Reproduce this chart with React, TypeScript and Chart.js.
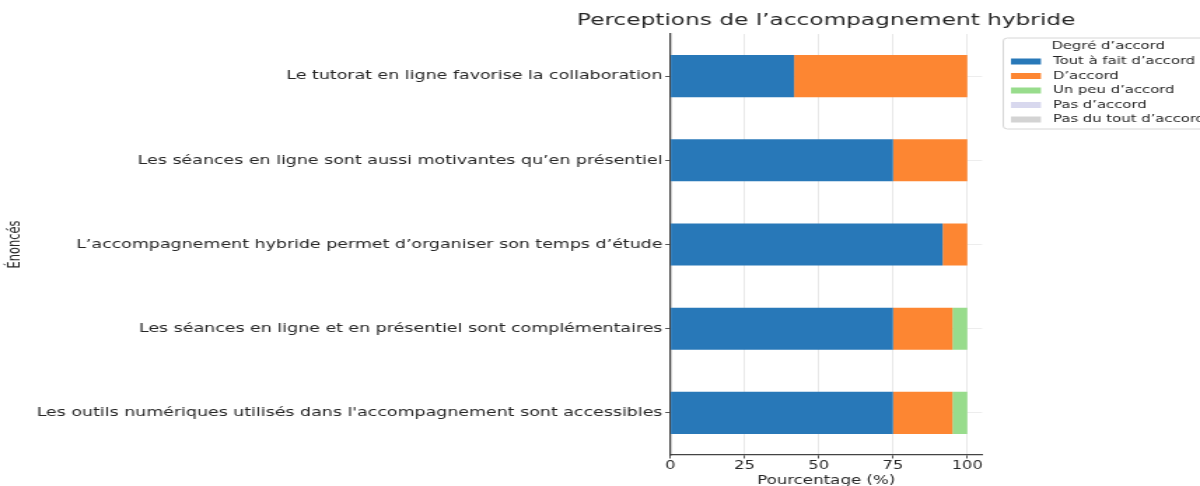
import React, { useEffect, useRef } from "react";
import { Chart, registerables } from "chart.js";

Chart.register(...registerables);

// ---- Data ----
const CATEGORIES = [
  "Le tutorat en ligne favorise la collaboration",
  "Les séances en ligne sont aussi motivantes qu’en présentiel",
  "L’accompagnement hybride permet d’organiser son temps d’étude",
  "Les séances en ligne et en présentiel sont complémentaires",
  "Les outils numériques utilisés dans l'accompagnement sont accessibles",
];
const SERIES_LABELS = [
  "Tout à fait d’accord",
  "D’accord",
  "Un peu d’accord",
  "Pas d’accord",
  "Pas du tout d’accord",
];
const TOUT_A_FAIT = [41.7, 75, 91.7, 75, 75];
const D_ACCORD = [58.3, 25, 8.3, 20, 20];
const UN_PEU = [0, 0, 0, 5, 5];
const PAS_D_ACCORD = [0, 0, 0, 0, 0];
const PAS_DU_TOUT = [0, 0, 0, 0, 0];
const SERIES_COLORS = ["#2878b8", "#fd8632", "#98dc8c", "#d8d8ee", "#d3d3d3"];
const X_TICKS = [0, 25, 50, 75, 100];
const X_MAX = 105;
const TITLE = "Perceptions de l’accompagnement hybride";
const X_TITLE = "Pourcentage (%)";
const Y_TITLE = "Énoncés";
const LEGEND_TITLE = "Degré d’accord";

// ---- Layout (logical canvas, displayed stretched horizontally) ----
const CW = 857;
const CH = 486;
const FONT = '"DejaVu Sans", "Noto Sans", sans-serif';
const TEXT = "#262626";

const chartTitle = {
  id: "chartTitle",
  afterDraw(chart: any) {
    const ctx = chart.ctx as CanvasRenderingContext2D;
    const a = chart.chartArea;
    ctx.save();
    ctx.font = `16.6px ${FONT}`;
    ctx.fillStyle = TEXT;
    ctx.textAlign = "center";
    ctx.textBaseline = "middle";
    ctx.fillText(TITLE, (a.left + a.right) / 2, 21);
    ctx.restore();
  },
};

const boxLegend = {
  id: "boxLegend",
  afterDraw(chart: any) {
    const ctx = chart.ctx as CanvasRenderingContext2D;
    const x0 = 716.5;
    const y0 = 38;
    const w = 170;
    const h = 91;
    ctx.save();
    ctx.fillStyle = "rgba(255,255,255,0.9)";
    ctx.strokeStyle = "#d6d6d6";
    ctx.lineWidth = 1;
    ctx.beginPath();
    const r = 3;
    ctx.moveTo(x0 + r, y0);
    ctx.lineTo(x0 + w - r, y0);
    ctx.quadraticCurveTo(x0 + w, y0, x0 + w, y0 + r);
    ctx.lineTo(x0 + w, y0 + h - r);
    ctx.quadraticCurveTo(x0 + w, y0 + h, x0 + w - r, y0 + h);
    ctx.lineTo(x0 + r, y0 + h);
    ctx.quadraticCurveTo(x0, y0 + h, x0, y0 + h - r);
    ctx.lineTo(x0, y0 + r);
    ctx.quadraticCurveTo(x0, y0, x0 + r, y0);
    ctx.closePath();
    ctx.fill();
    ctx.stroke();

    ctx.font = `10.6px ${FONT}`;
    ctx.fillStyle = TEXT;
    ctx.textAlign = "center";
    ctx.textBaseline = "middle";
    ctx.fillText(LEGEND_TITLE, 791.4, 46.5);

    chart.data.datasets.forEach((ds: any, i: number) => {
      const y = 61.5 + i * 14.5;
      ctx.fillStyle = ds.backgroundColor;
      ctx.fillRect(722, y - 3, 21.4, 6);
      ctx.fillStyle = TEXT;
      ctx.textAlign = "left";
      ctx.fillText(ds.label, 752, y);
    });
    ctx.restore();
  },
};

export default function App() {
  const ref = useRef<HTMLCanvasElement>(null);

  useEffect(() => {
    const seriesValues = [TOUT_A_FAIT, D_ACCORD, UN_PEU, PAS_D_ACCORD, PAS_DU_TOUT];
    const chart = new Chart(ref.current as HTMLCanvasElement, {
      type: "bar",
      data: {
        labels: CATEGORIES,
        datasets: SERIES_LABELS.map((label, i) => ({
          label,
          data: seriesValues[i],
          backgroundColor: SERIES_COLORS[i],
          borderWidth: 0,
          barPercentage: 0.5,
          categoryPercentage: 1,
        })),
      },
      options: {
        indexAxis: "y",
        responsive: false,
        animation: false,
        layout: { padding: { left: 0, right: CW - 701.4, top: 34, bottom: 0 } },
        plugins: {
          legend: { display: false },
          tooltip: { enabled: false },
          title: { display: false },
        },
        scales: {
          x: {
            type: "linear",
            stacked: true,
            min: 0,
            max: X_MAX,
            afterBuildTicks: (s: any) => {
              s.ticks = X_TICKS.map((v) => ({ value: v }));
            },
            afterFit: (s: any) => {
              s.height = 31;
            },
            ticks: {
              color: TEXT,
              font: { family: FONT, size: 11.6, lineHeight: 1.0 },
              padding: 1.5,
              maxRotation: 0,
            },
            grid: {
              color: "#e8e8e8",
              lineWidth: 1,
              drawTicks: true,
              tickLength: 3.5,
              tickColor: "#555555",
            },
            border: { display: true, color: "#444444", width: 1.3 },
            title: {
              display: true,
              text: X_TITLE,
              color: TEXT,
              font: { family: FONT, size: 11.9, lineHeight: 1.2 },
              padding: { top: 0, bottom: -2 },
            },
          },
          y: {
            type: "category",
            stacked: true,
            afterFit: (s: any) => {
              s.width = 478.6;
            },
            ticks: {
              color: TEXT,
              font: { family: FONT, size: 12.45 },
              padding: 2,
              autoSkip: false,
            },
            grid: {
              offset: false,
              color: "#ededed",
              lineWidth: 1,
              drawTicks: true,
              tickLength: 3.5,
              tickColor: "#555555",
            },
            border: { display: true, color: "#444444", width: 1.3 },
            title: {
              display: true,
              text: Y_TITLE,
              color: TEXT,
              font: { family: FONT, size: 11.4, lineHeight: 1.2 },
              padding: { top: 4.5, bottom: 0 },
            },
          },
        },
      },
      plugins: [chartTitle, boxLegend],
    } as any);
    return () => chart.destroy();
  }, []);

  return (
    <div
      style={{
        position: "absolute",
        left: 0,
        top: 0,
        width: 1200,
        height: CH,
        background: "#ffffff",
        overflow: "hidden",
      }}
    >
      <canvas
        ref={ref}
        width={CW}
        height={CH}
        style={{ width: "1200px", height: `${CH}px`, display: "block" }}
      />
    </div>
  );
}
